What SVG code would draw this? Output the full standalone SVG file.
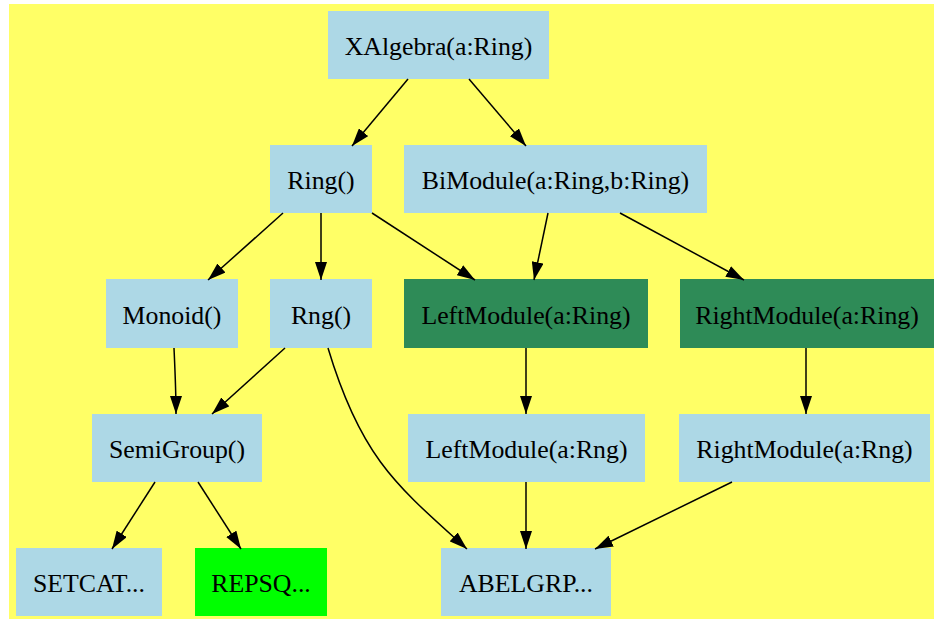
<svg xmlns="http://www.w3.org/2000/svg" width="934" height="619" viewBox="0 0 934 619">
<style>
.bg{fill:#ffff66}
.n{fill:#add8e6}
.dg{fill:#2e8b57}
.g{fill:#00ff00}
text{font-family:"Liberation Serif","Times New Roman",serif;font-size:25.8px;fill:#000;text-anchor:middle}
.e path{fill:none;stroke:#000;stroke-width:1.5;marker-end:url(#ah)}
</style>
<defs>
<marker id="ah" viewBox="0 0 18 12" refX="18" refY="6" markerWidth="18" markerHeight="12" markerUnits="userSpaceOnUse" orient="auto">
<path d="M0,0 L18,6 L0,12 z" fill="#000"/>
</marker>
</defs>
<rect class="bg" x="9" y="4" width="925" height="615"/>
<g id="XAlgebra"><rect class="n" x="328" y="11" width="221" height="68"/><text x="438.5" y="55">XAlgebra(a:Ring)</text></g>
<g id="Ring"><rect class="n" x="270" y="145" width="102" height="68"/><text x="321" y="189">Ring()</text></g>
<g id="BiModule"><rect class="n" x="404" y="145" width="303" height="68"/><text x="555.5" y="189">BiModule(a:Ring,b:Ring)</text></g>
<g id="Monoid"><rect class="n" x="106" y="279" width="132" height="69"/><text x="172" y="323.5">Monoid()</text></g>
<g id="Rng"><rect class="n" x="270" y="279" width="102" height="69"/><text x="321" y="323.5">Rng()</text></g>
<g id="LeftModuleRing"><rect class="dg" x="404" y="279" width="244" height="69"/><text x="526" y="323.5">LeftModule(a:Ring)</text></g>
<g id="RightModuleRing"><rect class="dg" x="680" y="279" width="254" height="69"/><text x="807" y="323.5">RightModule(a:Ring)</text></g>
<g id="SemiGroup"><rect class="n" x="92" y="414" width="170" height="68"/><text x="177" y="458">SemiGroup()</text></g>
<g id="LeftModuleRng"><rect class="n" x="408" y="414" width="237" height="68"/><text x="526.5" y="458">LeftModule(a:Rng)</text></g>
<g id="RightModuleRng"><rect class="n" x="679" y="414" width="251" height="68"/><text x="804.5" y="458">RightModule(a:Rng)</text></g>
<g id="SETCAT"><rect class="n" x="16" y="548" width="146" height="68"/><text x="89" y="592">SETCAT...</text></g>
<g id="REPSQ"><rect class="g" x="195" y="548" width="132" height="68"/><text x="261" y="592">REPSQ...</text></g>
<g id="ABELGRP"><rect class="n" x="441" y="548" width="170" height="68"/><text x="526" y="592">ABELGRP...</text></g>
<g id="edges" class="e">
<path d="M408,79 L352,146"/>
<path d="M469,79 L526,146"/>
<path d="M283,213 L208,280"/>
<path d="M321,213 L321,280"/>
<path d="M372,213 L475,280"/>
<path d="M548,213 L534,280"/>
<path d="M620,213 L744,280"/>
<path d="M174,348 C175,370 176,390 176,414"/>
<path d="M285,348 L212,414"/>
<path d="M328,348 C361,458 397,486 467,549"/>
<path d="M526,348 L526,414"/>
<path d="M806,348 L806,414"/>
<path d="M155,482 L112,549"/>
<path d="M198,482 L241,549"/>
<path d="M526,482 L526,549"/>
<path d="M732,482 L595,549"/>
</g>
</svg>
